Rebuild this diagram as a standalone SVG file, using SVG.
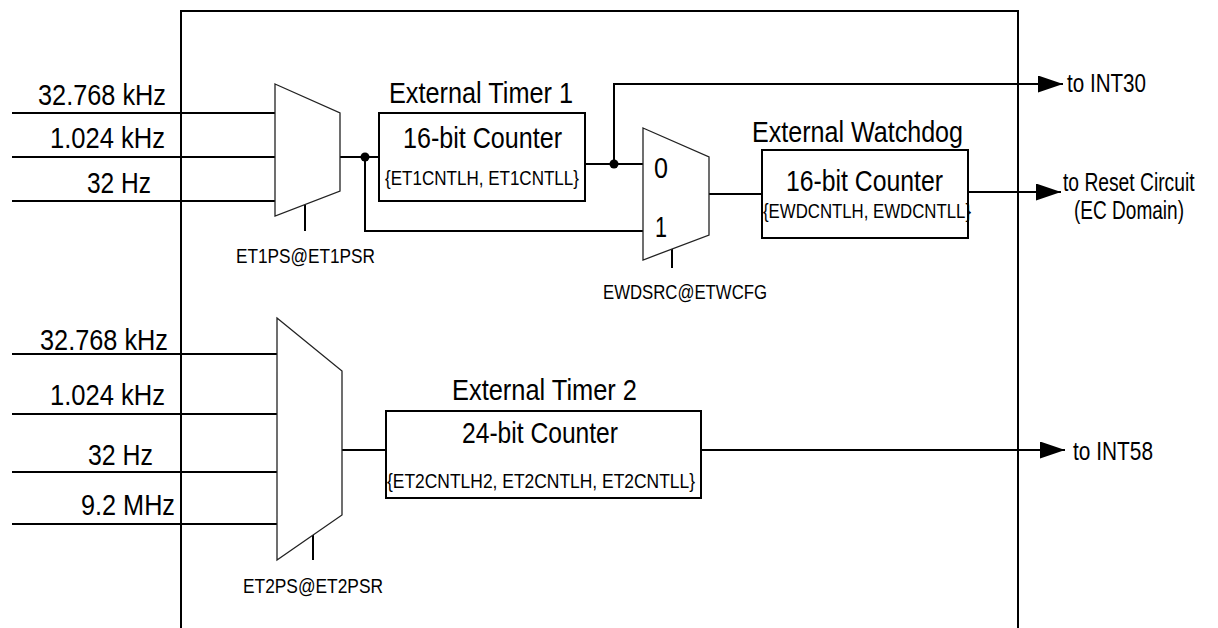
<svg xmlns="http://www.w3.org/2000/svg" width="1218" height="628" viewBox="0 0 1218 628">
<style>
text{font-family:"Liberation Sans",Arial,sans-serif;fill:#000}
.big{font-size:29px}
.mid{font-size:25px}
.sm{font-size:21px}
.w{fill:none;stroke:#000;stroke-width:2}
.box{fill:#fff;stroke:#000;stroke-width:2}
.mux{fill:#fff;stroke:#222;stroke-width:1.3}
.dot{fill:#000}
</style>
<defs>
<marker id="arr" markerUnits="userSpaceOnUse" viewBox="0 0 25 17" refX="25" refY="8.5" markerWidth="25" markerHeight="17" orient="auto">
<path d="M0,0 L25,8.5 L0,17 Z" fill="#000"/>
</marker>
</defs>
<g id="frame">
<path class="w" d="M181,628 V11 H1018 V628"/>
</g>
<g id="connectors">
<path class="w" d="M12,113 H275 M12,157 H275 M12,201 H275"/>
<path class="w" d="M340,157 H379"/>
<path class="w" d="M365,157 V231 H643"/>
<path class="w" d="M585,164 H643"/>
<path class="w" d="M614,164 V84 H1063" marker-end="url(#arr)"/>
<path class="w" d="M709,194 H762"/>
<path class="w" d="M968,192 H1061" marker-end="url(#arr)"/>
<path class="w" d="M12,354 H277 M12,414 H277 M12,472 H277 M12,524 H277"/>
<path class="w" d="M342,450 H386"/>
<path class="w" d="M701,450 H1065" marker-end="url(#arr)"/>
<path class="w" d="M305,205 V231 M672,249 V268 M313,535 V560"/>
<circle class="dot" cx="365" cy="157" r="4.5"/>
<circle class="dot" cx="614" cy="164" r="4.5"/>
</g>
<g id="inputs1">
<text class="big" x="38" y="105" textLength="128" lengthAdjust="spacingAndGlyphs">32.768 kHz</text>
<text class="big" x="50" y="148" textLength="115" lengthAdjust="spacingAndGlyphs">1.024 kHz</text>
<text class="big" x="87" y="193" textLength="64" lengthAdjust="spacingAndGlyphs">32 Hz</text>
</g>
<g id="mux1">
<polygon class="mux" points="275,84 340,113 340,191 275,216"/>
<text class="sm" x="236" y="263" textLength="139" lengthAdjust="spacingAndGlyphs">ET1PS@ET1PSR</text>
</g>
<g id="timer1">
<text class="big" x="389" y="103" textLength="184" lengthAdjust="spacingAndGlyphs">External Timer 1</text>
<rect class="box" x="379" y="113" width="206" height="88"/>
<text class="big" x="403" y="148" textLength="159" lengthAdjust="spacingAndGlyphs">16-bit Counter</text>
<text class="sm" x="385" y="185" textLength="194" lengthAdjust="spacingAndGlyphs">{ET1CNTLH, ET1CNTLL}</text>
</g>
<g id="mux2">
<polygon class="mux" points="643,128 709,157 709,235 643,260"/>
<text class="big" x="654" y="178" textLength="14" lengthAdjust="spacingAndGlyphs">0</text>
<text class="big" x="655" y="237" textLength="12" lengthAdjust="spacingAndGlyphs">1</text>
<text class="sm" x="603" y="299" textLength="164" lengthAdjust="spacingAndGlyphs">EWDSRC@ETWCFG</text>
</g>
<g id="watchdog">
<text class="big" x="752" y="142" textLength="211" lengthAdjust="spacingAndGlyphs">External Watchdog</text>
<rect class="box" x="762" y="150" width="206" height="88"/>
<text class="big" x="786" y="191" textLength="157" lengthAdjust="spacingAndGlyphs">16-bit Counter</text>
<text class="sm" x="763" y="218" textLength="208" lengthAdjust="spacingAndGlyphs">{EWDCNTLH, EWDCNTLL}</text>
</g>
<g id="outputs1">
<text class="mid" x="1067" y="92" textLength="79" lengthAdjust="spacingAndGlyphs">to INT30</text>
<text class="mid" transform="translate(1063,191) scale(0.77,1)" x="0" y="0">to Reset Circuit</text>
<text class="mid" x="1074" y="219" textLength="110" lengthAdjust="spacingAndGlyphs">(EC Domain)</text>
</g>
<g id="inputs2">
<text class="big" x="40" y="350" textLength="128" lengthAdjust="spacingAndGlyphs">32.768 kHz</text>
<text class="big" x="50" y="405" textLength="115" lengthAdjust="spacingAndGlyphs">1.024 kHz</text>
<text class="big" x="88" y="465" textLength="65" lengthAdjust="spacingAndGlyphs">32 Hz</text>
<text class="big" x="81" y="515" textLength="94" lengthAdjust="spacingAndGlyphs">9.2 MHz</text>
</g>
<g id="mux3">
<polygon class="mux" points="277,318 342,371 342,515 277,560"/>
<text class="sm" x="243" y="593" textLength="140" lengthAdjust="spacingAndGlyphs">ET2PS@ET2PSR</text>
</g>
<g id="timer2">
<text class="big" x="452" y="400" textLength="185" lengthAdjust="spacingAndGlyphs">External Timer 2</text>
<rect class="box" x="386" y="411" width="315" height="87"/>
<text class="big" x="462" y="443" textLength="156" lengthAdjust="spacingAndGlyphs">24-bit Counter</text>
<text class="sm" x="387" y="488" textLength="308" lengthAdjust="spacingAndGlyphs">{ET2CNTLH2, ET2CNTLH, ET2CNTLL}</text>
</g>
<g id="output2">
<text class="mid" x="1073" y="460" textLength="80" lengthAdjust="spacingAndGlyphs">to INT58</text>
</g>
</svg>
